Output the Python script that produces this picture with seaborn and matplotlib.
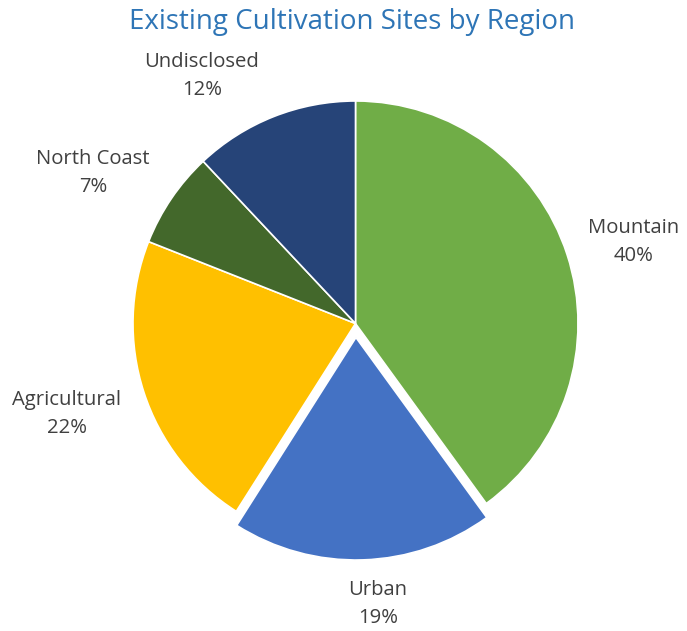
import matplotlib
matplotlib.use("Agg")
import matplotlib.pyplot as plt
import seaborn as sns

# Share of existing cultivation sites by region (percent)
regions = ["Mountain", "Urban", "Agricultural", "North Coast", "Undisclosed"]
shares = [40, 19, 22, 7, 12]
colors = ["#70AD47", "#4472C4", "#FFC000", "#43682B", "#264478"]
# Urban slice pulled out from the centre (in pixel units)
explode = [0, 14, 0, 0, 0]

# Label block centres (figure pixel space, origin bottom-left)
label_pos = [(634, 389), (378, 27), (67, 217), (93, 458), (202, 555)]

sns.set_theme(style="white")
plt.rcParams["font.family"] = ["Open Sans", "DejaVu Sans"]

W, H = 687, 631
fig = plt.figure(figsize=(W / 100, H / 100), dpi=100)
ax = fig.add_axes([0, 0, 1, 1])
ax.set_xlim(0, W)
ax.set_ylim(0, H)
ax.axis("off")

ax.pie(shares, colors=colors, startangle=90, counterclock=False,
       explode=explode, center=(355.5, 307.5), radius=222.5,
       wedgeprops=dict(edgecolor="white", linewidth=1.2), frame=False)
ax.set_xlim(0, W)
ax.set_ylim(0, H)

for name, val, (x, y) in zip(regions, shares, label_pos):
    ax.text(x, y, f"{name}\n{val}%", ha="center", va="center",
            fontsize=14.6, color="#404040", linespacing=1.5)

ax.text(352, H - 22, "Existing Cultivation Sites by Region", ha="center",
        va="center", fontsize=20, color="#2E75B6")

fig.savefig("out.png", dpi=100)
